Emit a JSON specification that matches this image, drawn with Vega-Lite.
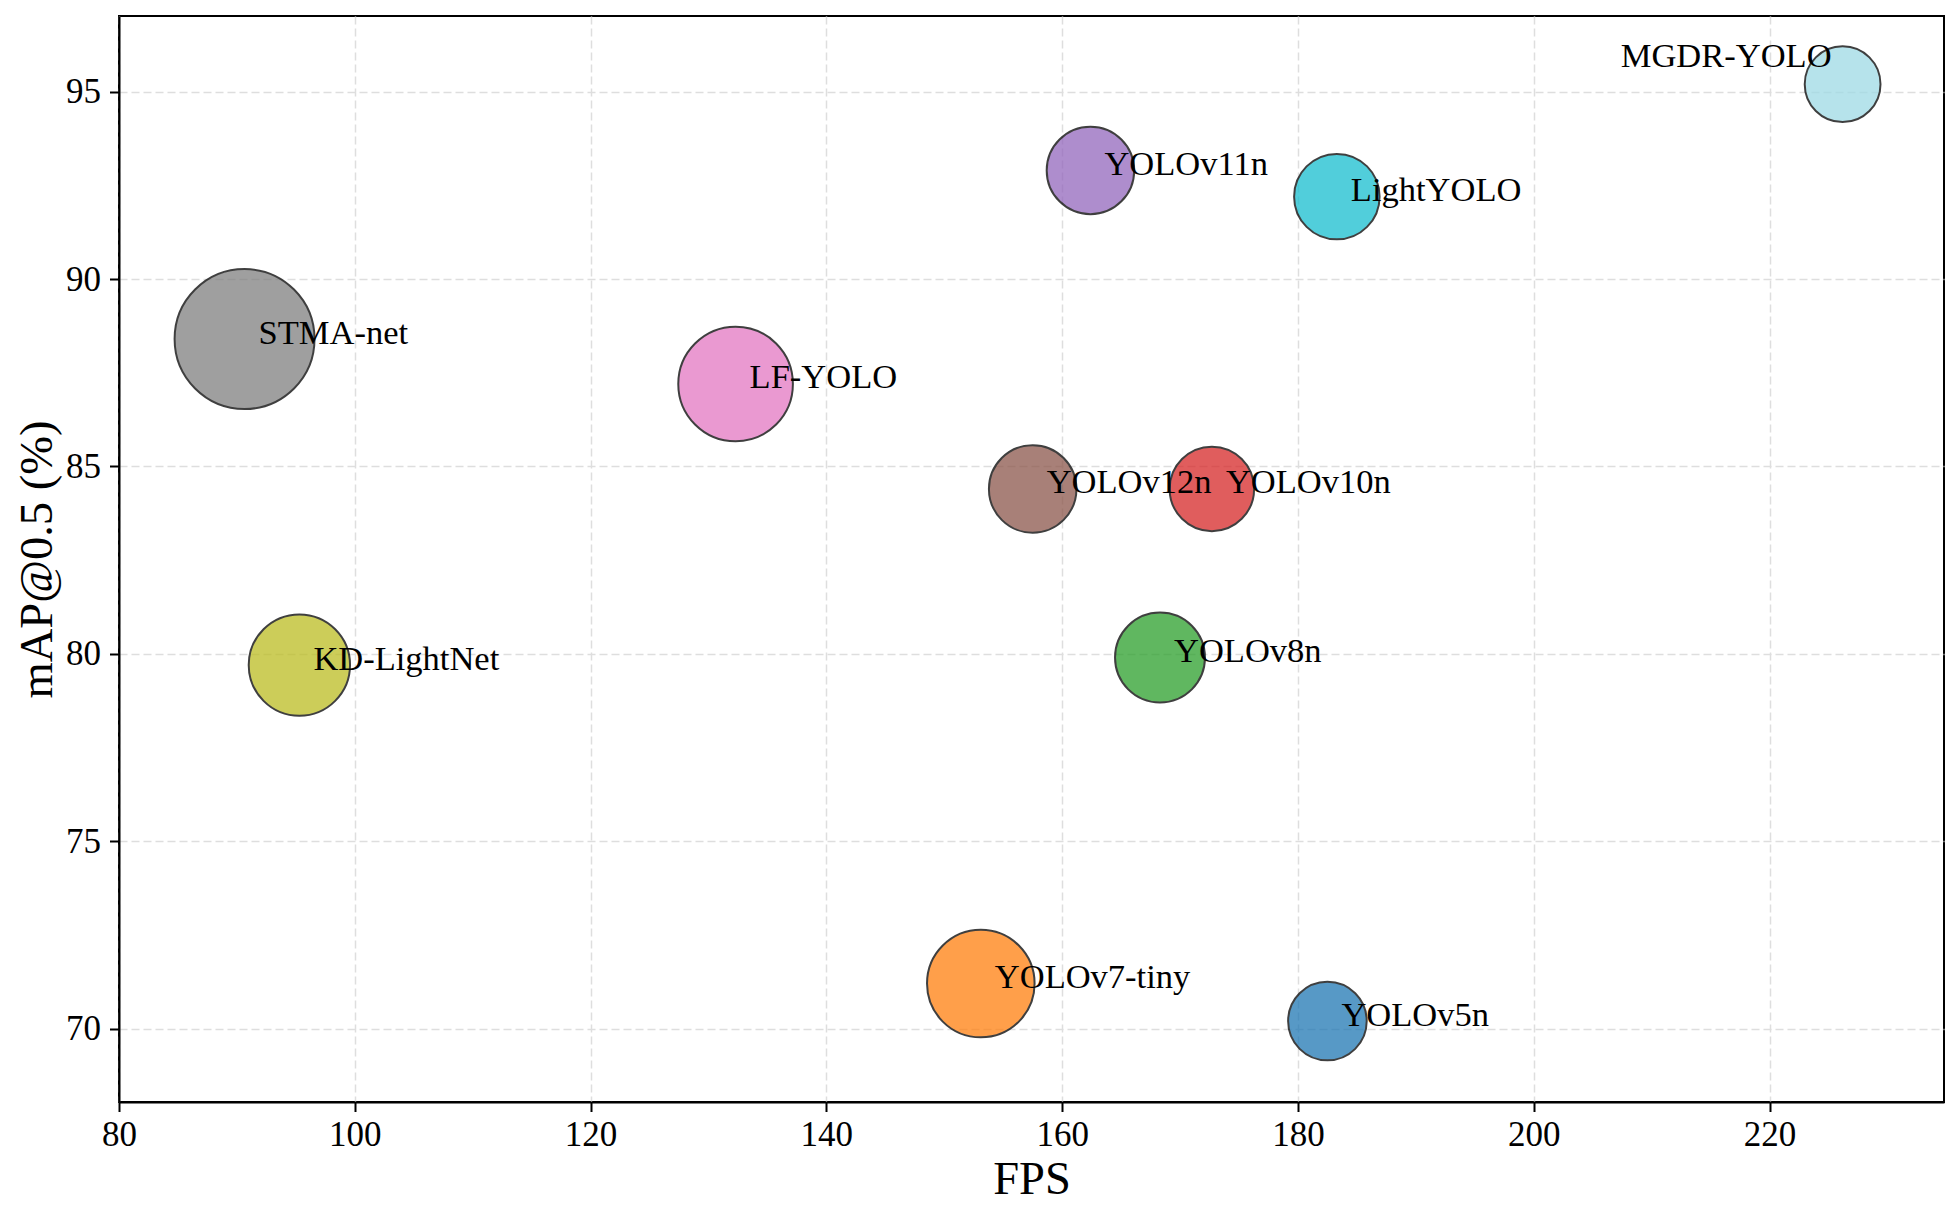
{
  "$schema": "https://vega.github.io/schema/vega-lite/v6.json",
  "autosize": {"type": "none"},
  "padding": {"left": 119, "top": 16, "right": 15, "bottom": 104},
  "width": 1825,
  "height": 1086,
  "background": "white",
  "config": {
    "view": {"stroke": "black", "strokeWidth": 2},
    "font": "Liberation Serif",
    "axis": {
      "domain": true,
      "domainColor": "black",
      "domainWidth": 2,
      "grid": true,
      "gridColor": "#dedede",
      "gridDash": [8, 4],
      "gridWidth": 1.5,
      "ticks": true,
      "tickColor": "black",
      "tickSize": 9.5,
      "tickWidth": 2,
      "labelFlush": false,
      "labelOverlap": false,
      "labelFont": "Liberation Serif",
      "labelFontSize": 35,
      "labelColor": "black",
      "titleFont": "Liberation Serif",
      "titleFontSize": 46.5,
      "titleFontWeight": "normal",
      "titleColor": "black"
    }
  },
  "data": {
    "values": [
      {"model": "YOLOv5n", "FPS": 182.5, "mAP50": 70.2, "complexity": 7.1},
      {"model": "YOLOv7-tiny", "FPS": 153.1, "mAP50": 71.2, "complexity": 13.3},
      {"model": "YOLOv8n", "FPS": 168.3, "mAP50": 79.9, "complexity": 9.3},
      {"model": "YOLOv10n", "FPS": 172.7, "mAP50": 84.4, "complexity": 8.2},
      {"model": "YOLOv11n", "FPS": 162.4, "mAP50": 92.9, "complexity": 8.8},
      {"model": "YOLOv12n", "FPS": 157.5, "mAP50": 84.4, "complexity": 8.8},
      {"model": "LF-YOLO", "FPS": 132.3, "mAP50": 87.2, "complexity": 15.1},
      {"model": "STMA-net", "FPS": 90.65, "mAP50": 88.4, "complexity": 22.5},
      {"model": "KD-LightNet", "FPS": 95.3, "mAP50": 79.7, "complexity": 11.8},
      {"model": "LightYOLO", "FPS": 183.3, "mAP50": 92.2, "complexity": 8.4},
      {"model": "MGDR-YOLO", "FPS": 226.2, "mAP50": 95.2, "complexity": 6.6}
    ]
  },
  "encoding": {
    "x": {
      "field": "FPS", "type": "quantitative",
      "scale": {"domain": [80, 234.8], "nice": false, "zero": false},
      "axis": {"title": "FPS", "values": [80, 100, 120, 140, 160, 180, 200, 220], "labelPadding": 6, "titleBaseline": "alphabetic", "titleY": 91.5}
    },
    "y": {
      "field": "mAP50", "type": "quantitative",
      "scale": {"domain": [68.04, 97.02], "nice": false, "zero": false},
      "axis": {"title": "mAP@0.5 (%)", "values": [70, 75, 80, 85, 90, 95], "labelPadding": 9, "titleAngle": 270, "titleBaseline": "alphabetic", "titleAlign": "center", "titleX": -68, "titleY": 543}
    }
  },
  "layer": [
    {
      "mark": {"type": "circle", "opacity": 0.75, "stroke": "black", "strokeWidth": 2},
      "encoding": {
        "color": {
          "field": "model", "type": "nominal", "legend": null,
          "scale": {
            "domain": ["YOLOv5n", "YOLOv7-tiny", "YOLOv8n", "YOLOv10n", "YOLOv11n", "YOLOv12n", "LF-YOLO", "STMA-net", "KD-LightNet", "LightYOLO", "MGDR-YOLO"],
            "range": ["#1f77b4", "#ff7f0e", "#2ca02c", "#d62728", "#9467bd", "#8c564b", "#e377c2", "#7f7f7f", "#bcbd22", "#17becf", "#9edae5"]
          }
        },
        "size": {
          "field": "complexity", "type": "quantitative", "legend": null,
          "scale": {"type": "linear", "domain": [0, 10], "range": [0, 8699], "zero": true}
        }
      }
    },
    {
      "transform": [{"filter": "datum.model !== 'MGDR-YOLO'"}],
      "mark": {"type": "text", "align": "left", "baseline": "alphabetic", "dx": 14, "dy": 4.5, "fontSize": 34.5, "font": "Liberation Serif", "color": "black"},
      "encoding": {"text": {"field": "model"}}
    },
    {
      "transform": [{"filter": "datum.model === 'MGDR-YOLO'"}],
      "mark": {"type": "text", "align": "right", "baseline": "alphabetic", "dx": -11, "dy": -17, "fontSize": 34.5, "font": "Liberation Serif", "color": "black"},
      "encoding": {"text": {"field": "model"}}
    }
  ]
}
